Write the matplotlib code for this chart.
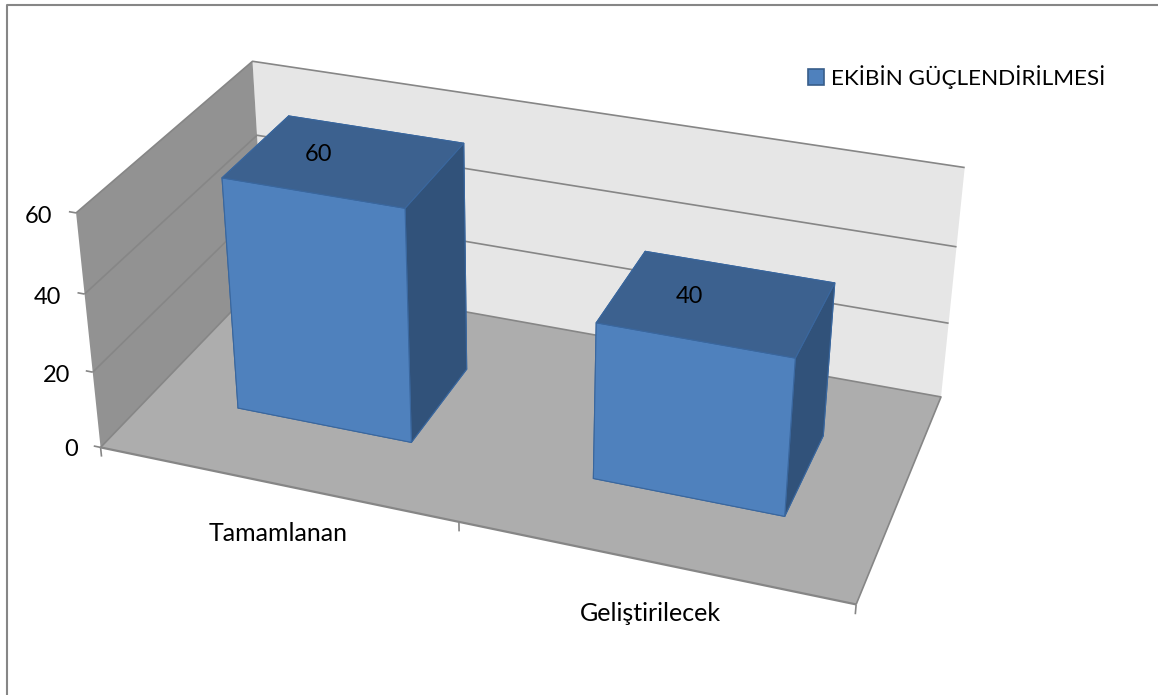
import matplotlib
matplotlib.use("Agg")
import matplotlib.pyplot as plt
import numpy as np
from matplotlib.lines import Line2D
from matplotlib.patches import Patch
from mpl_toolkits.mplot3d import proj3d
from mpl_toolkits.mplot3d.art3d import Line3DCollection, Poly3DCollection

plt.rcParams["font.family"] = ["Lato", "DejaVu Sans"]

# data
categories = ["Tamamlanan", "Geliştirilecek"]
values = [60, 40]
value_ticks = [0, 20, 40, 60]
series_name = "EKİBİN GÜÇLENDİRİLMESİ"

W, H = 1158, 695
FRONT = "#4F81BD"
TOP = "#3C618F"
SIDE = "#31527A"
EDGE = "#3A679E"
LINE = "#868686"

# camera: world corner -> pixel
calib_world = np.array([
    (0, 0, 0), (2, 0, 0), (2, 1, 0), (0, 1, 0),
    (0, 0, 60), (0, 1, 60), (2, 1, 60),
    (2, 1, 40), (2, 1, 20), (0, 1, 40),
    (0, 0, 40), (0, 0, 20),
], dtype=float)
calib_px = np.array([
    (102, 447), (856, 605), (941, 396), (264, 277),
    (75.5, 213), (253, 61), (964, 168),
    (957, 247), (949, 323), (258, 135),
    (84, 294), (92.5, 372),
], dtype=float)

A, b = [], []
for (X, Y, Z), (u, v) in zip(calib_world, calib_px):
    A.append([X, Y, Z, 1, 0, 0, 0, 0, -u * X, -u * Y, -u * Z])
    A.append([0, 0, 0, 0, X, Y, Z, 1, -v * X, -v * Y, -v * Z])
    b += [u, v]
p = np.linalg.lstsq(np.array(A), np.array(b), rcond=None)[0]
M = np.array([
    [p[0], p[1], p[2], p[3]],
    [p[4], p[5], p[6], p[7]],
    [-0.1, 1.0, -0.01, 0.0],   # only used to order faces
    [p[8], p[9], p[10], 1.0],
])

fig = plt.figure(figsize=(W / 100, H / 100), dpi=100)
ax = fig.add_axes([0, 0, 1, 1], projection="3d", computed_zorder=False)
ax.set_axis_off()
ax.patch.set_visible(False)
ax.set_xticks([])
ax.set_yticks([])
ax.set_zticks([])
ax.apply_aspect = lambda position=None: None
ax.get_proj = lambda: M

zmax = value_ticks[-1]
n = len(categories)


def add_lines(segments, lw=1.2):
    ax.add_collection3d(Line3DCollection(segments, colors=LINE, linewidths=lw, zorder=2))


def add_label(x, y, z, s, fontsize=17, **kw):
    u, v, _ = proj3d.proj_transform(x, y, z, M)
    ax.text2D(u, v, s, transform=ax.transData, va="center", fontsize=fontsize,
              color="black", zorder=6, **kw)


# walls and floor
floor = [(0, 0, 0), (n, 0, 0), (n, 1, 0), (0, 1, 0)]
back = [(0, 1, 0), (n, 1, 0), (n, 1, zmax), (0, 1, zmax)]
left = [(0, 0, 0), (0, 1, 0), (0, 1, zmax), (0, 0, zmax)]
for poly, col in [(floor, "#ADADAD"), (back, "#E6E6E6"), (left, "#929292")]:
    ax.add_collection3d(Poly3DCollection([poly], facecolors=col, edgecolors="none", zorder=1))

# gridlines
add_lines([[(0, 0, t), (0, 1, t), (n, 1, t)] for t in value_ticks[1:]])
add_lines([[(0, 0, 0), (0, 1, 0), (n, 1, 0), (n, 0, 0)]])
add_lines([[(0, 0, 0), (n, 0, 0)]], lw=1.6)

# ticks
add_lines([[(-0.02, 0, t), (0, 0, t)] for t in value_ticks])
add_lines([[(i, 0, 0), (i, 0, -2.5)] for i in range(n + 1)])
for t in value_ticks:
    add_label(-0.068, 0, t - 2, str(t), ha="right")

# bars
bar_w, bar_d = 0.5, 0.4
for i, v in enumerate(values):
    x0, y0 = i + 0.25, 0.3
    ax.bar3d(x0, y0, 0, bar_w, bar_d, v, shade=False,
             color=[SIDE, TOP, FRONT, SIDE, SIDE, SIDE],
             edgecolor=EDGE, linewidth=0.8, zorder=3 + i * 0.1)
    add_label(x0 + bar_w / 2 - 0.073, y0 + bar_d / 2, v + 0.3, str(v), ha="center")

for i, c in enumerate(categories):
    add_label(i + 0.5, 0, -13.5, c, fontsize=18, ha="center")

ax.viewLim.intervalx = (0, W)
ax.viewLim.intervaly = (H, 0)

# chart area border, only top and left reach the crop
fig.add_artist(Line2D([7.5 / W, 7.5 / W, 1], [0, 1 - 5 / H, 1 - 5 / H], color=LINE, lw=1.5))

fig.legend(handles=[Patch(facecolor=FRONT, edgecolor="#385D8A", lw=1.2)], labels=[series_name],
           loc="center left", bbox_to_anchor=(808 / W, 1 - 77 / H), frameon=False, fontsize=16.2,
           handlelength=0.72, handleheight=0.72, handletextpad=0.32, borderpad=0, borderaxespad=0)

fig.savefig("out.png", dpi=100)
